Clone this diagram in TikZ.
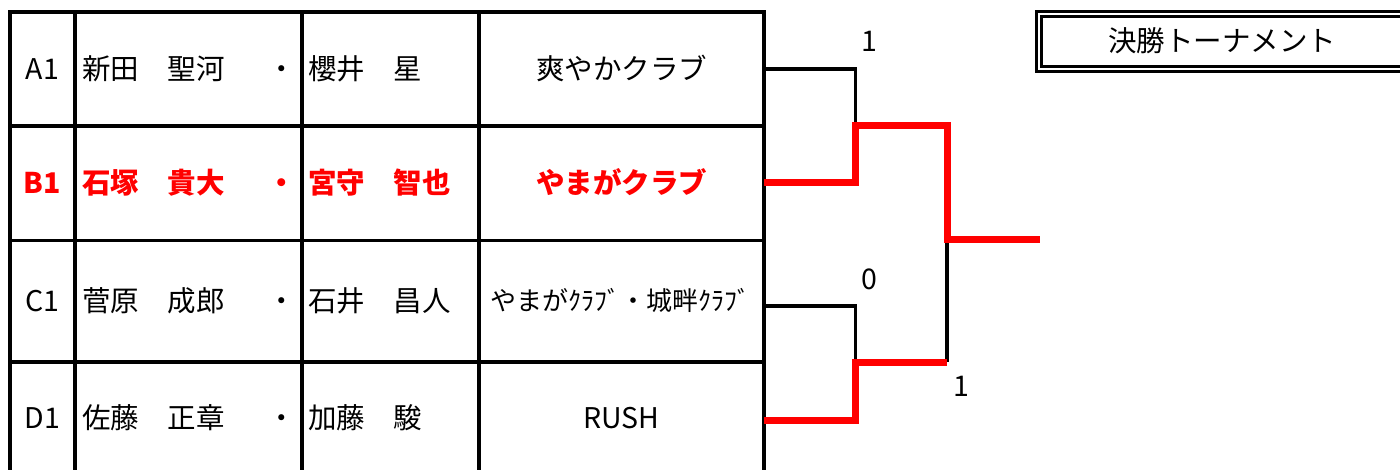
\documentclass[tikz,border=0pt]{standalone}
\usepackage{fontspec}
\setmainfont{Noto Sans CJK JP}
\begin{document}
\begin{tikzpicture}[x=1pt,y=-1pt,
  txt/.style={font=\fontsize{28.5}{32}\selectfont, inner sep=0pt, text=black, anchor=base},
  win/.style={font=\fontsize{28.5}{32}\selectfont\bfseries, inner sep=0pt, text=red, anchor=base},
  small/.style={font=\fontsize{26}{30}\selectfont, inner sep=0pt, text=black, anchor=base},
  grid/.style={line width=3.3pt, line cap=rect, black},
  lose/.style={line width=3.3pt, black, line join=miter},
  winpath/.style={line width=7pt, red, line join=miter},
  titlebox/.style={draw=black, double=white, line width=2.8pt, double distance=2.4pt}]
\useasboundingbox (0,0) rectangle (1400,470);
% table grid
\draw[grid] (10,12) -- (764,12);
\foreach \yy in {126,240.5,362} \draw[grid] (10,\yy) -- (764,\yy);
\foreach \xx in {10,75,302,479,764} \draw[grid] (\xx,12) -- (\xx,480);
% row A (baseline = centre + 10.5)
\node[txt] (a1) at (42.5,79.5) {A1};
\node[txt,anchor=base west] (a2) at (82,79.5) {新田　聖河};
\node[txt] (a2d) at (282,79.5) {・};
\node[txt,anchor=base west] (a3) at (308,79.5) {櫻井　星};
\node[txt] (a4) at (621.5,79.5) {爽やかクラブ};
% row B
\node[win] (b1) at (42.5,193.5) {B1};
\node[win,anchor=base west] (b2) at (82,193.5) {石塚　貴大};
\node[win] (b2d) at (282,193.5) {・};
\node[win,anchor=base west] (b3) at (308,193.5) {宮守　智也};
\node[win] (b4) at (621.5,193.5) {やまがクラブ};
% row C
\node[txt] (c1) at (42.5,311.5) {C1};
\node[txt,anchor=base west] (c2) at (82,311.5) {菅原　成郎};
\node[txt] (c2d) at (282,311.5) {・};
\node[txt,anchor=base west] (c3) at (308,311.5) {石井　昌人};
\node[small] (c4) at (620,310.5) {やまがｸﾗﾌﾞ・城畔ｸﾗﾌﾞ};
% row D
\node[txt] (d1) at (42.5,428.5) {D1};
\node[txt,anchor=base west] (d2) at (82,428.5) {佐藤　正章};
\node[txt] (d2d) at (282,428.5) {・};
\node[txt,anchor=base west] (d3) at (308,428.5) {加藤　駿};
\node[txt] (d4) at (621.5,428.5) {RUSH};
% bracket points
\coordinate (ae) at (764,69);
\coordinate (be) at (764,183);
\coordinate (ce) at (764,306);
\coordinate (de) at (764,420);
\coordinate (m1) at (855.5,126);
\coordinate (m2) at (855.5,362);
\coordinate (ft) at (947,126);
\coordinate (fb) at (947,362);
\coordinate (champ) at (1040,240);
% losers
\draw[lose] (ae) -| (m1);
\draw[lose] (ce) -| (m2);
\draw[lose] (fb) -- (947,240);
% winners
\draw[winpath] (be) -| (m1) -- (ft) |- (champ);
\draw[winpath] (de) -| (m2) -- (fb);
% scores
\node[txt] (s1) at (869,51.5) {1};
\node[txt] (s2) at (869,289.5) {0};
\node[txt] (s3) at (961,396.5) {1};
% title
\draw[titlebox] (1039.2,14) rectangle (1420,69);
\node[txt] (title) at (1222,52) {決勝トーナメント};
\end{tikzpicture}
\end{document}
